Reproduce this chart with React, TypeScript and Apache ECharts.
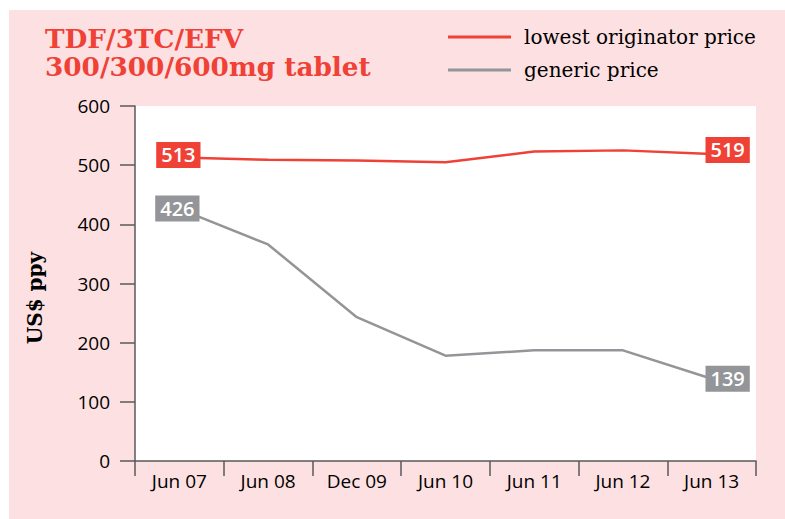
import React, { useEffect, useRef } from "react";
import * as echarts from "echarts";

const categories = ["Jun 07", "Jun 08", "Dec 09", "Jun 10", "Jun 11", "Jun 12", "Jun 13"];
const originatorPrice = [513, 509, 508, 505, 523, 525, 519];
const genericPrice = [426, 366, 243, 178, 187, 187, 139];
const seriesNames = ["lowest originator price", "generic price"];
const yMin = 0;
const yMax = 600;
const yInterval = 100;
const titleLines = ["TDF/3TC/EFV", "300/300/600mg tablet"];
const yAxisTitle = "US$ ppy";

const RED = "#ef4136";
const GRAY = "#939598";
const PINK = "#fde0e1";
const AXIS = "#58595b";
const SANS = "'Open Sans', 'Noto Sans', sans-serif";
const SERIF = "'DejaVu Serif', serif";

function endLabels(values: number[], color: string, firstOffset: number[], lastOffset: number[]) {
  const last = values.length - 1;
  return values.map((v, i) => {
    if (i === 0 || i === last) {
      return {
        value: v,
        symbol: "circle",
        symbolSize: 2,
        label: {
          show: true,
          position: "inside",
          offset: i === 0 ? firstOffset : lastOffset,
          formatter: "{c}",
          color: "#fff",
          backgroundColor: color,
          padding: [3, 5, 3, 5],
          fontFamily: SANS,
          fontWeight: 600,
          fontSize: 20,
          lineHeight: 20,
        },
      };
    }
    return { value: v, symbol: "none" };
  });
}

export default function App() {
  const ref = useRef<HTMLDivElement>(null);
  useEffect(() => {
    if (!ref.current) return;
    const chart = echarts.init(ref.current, undefined, { renderer: "svg" });
    chart.setOption({
      animation: false,
      backgroundColor: "#ffffff",
      graphic: [
        {
          type: "rect",
          z: -10,
          silent: true,
          shape: { x: 9, y: 10, width: 800, height: 520 },
          style: { fill: PINK },
        },
        {
          type: "text",
          x: 35,
          y: 298,
          rotation: Math.PI / 2,
          style: {
            text: yAxisTitle,
            fill: "#000",
            font: `bold 20px ${SERIF}`,
            align: "center",
            verticalAlign: "middle",
          },
        },
      ],
      title: {
        text: titleLines.join("\n"),
        left: 40,
        top: 19,
        textStyle: {
          color: RED,
          fontFamily: SERIF,
          fontWeight: "bold",
          fontSize: 26.3,
          lineHeight: 28,
        },
      },
      legend: {
        orient: "vertical",
        left: 448,
        top: 27,
        icon: "rect",
        itemWidth: 63,
        itemHeight: 3,
        itemGap: 13,
        padding: 0,
        data: seriesNames,
        textStyle: {
          color: "#000",
          fontFamily: SERIF,
          fontSize: 20,
          lineHeight: 20,
          padding: [0, 0, 0, 8],
        },
      },
      grid: {
        left: 135,
        top: 106,
        right: 29,
        bottom: 58,
        show: true,
        backgroundColor: "#ffffff",
        borderWidth: 0,
      },
      xAxis: {
        type: "category",
        data: categories,
        boundaryGap: true,
        axisLine: { lineStyle: { color: AXIS, width: 1.5 } },
        axisTick: { show: true, length: 15, lineStyle: { color: AXIS, width: 1.5 } },
        axisLabel: { color: "#000", fontFamily: SANS, fontSize: 19, margin: 10 },
        splitLine: { show: false },
      },
      yAxis: {
        type: "value",
        min: yMin,
        max: yMax,
        interval: yInterval,
        axisLine: { show: true, lineStyle: { color: AXIS, width: 1.5 } },
        axisTick: { show: true, length: 15, lineStyle: { color: AXIS, width: 1.5 } },
        axisLabel: { color: "#000", fontFamily: SANS, fontSize: 19, margin: 25 },
        splitLine: { show: false },
      },
      series: [
        {
          name: seriesNames[0],
          type: "line",
          color: RED,
          symbol: "none",
          showSymbol: true,
          lineStyle: { color: RED, width: 2.5 },
          itemStyle: { color: RED },
          data: endLabels(originatorPrice, RED, [-1, -2.5], [16, -4]),
          z: 3,
        },
        {
          name: seriesNames[1],
          type: "line",
          color: GRAY,
          symbol: "none",
          showSymbol: true,
          lineStyle: { color: GRAY, width: 2.5 },
          itemStyle: { color: GRAY },
          data: endLabels(genericPrice, GRAY, [-2, -0.5], [16, 0]),
          z: 2,
        },
      ],
    });
    return () => chart.dispose();
  }, []);
  return (
    <div
      ref={ref}
      style={{ position: "fixed", left: 0, top: 0, width: 785, height: 519 }}
    />
  );
}
